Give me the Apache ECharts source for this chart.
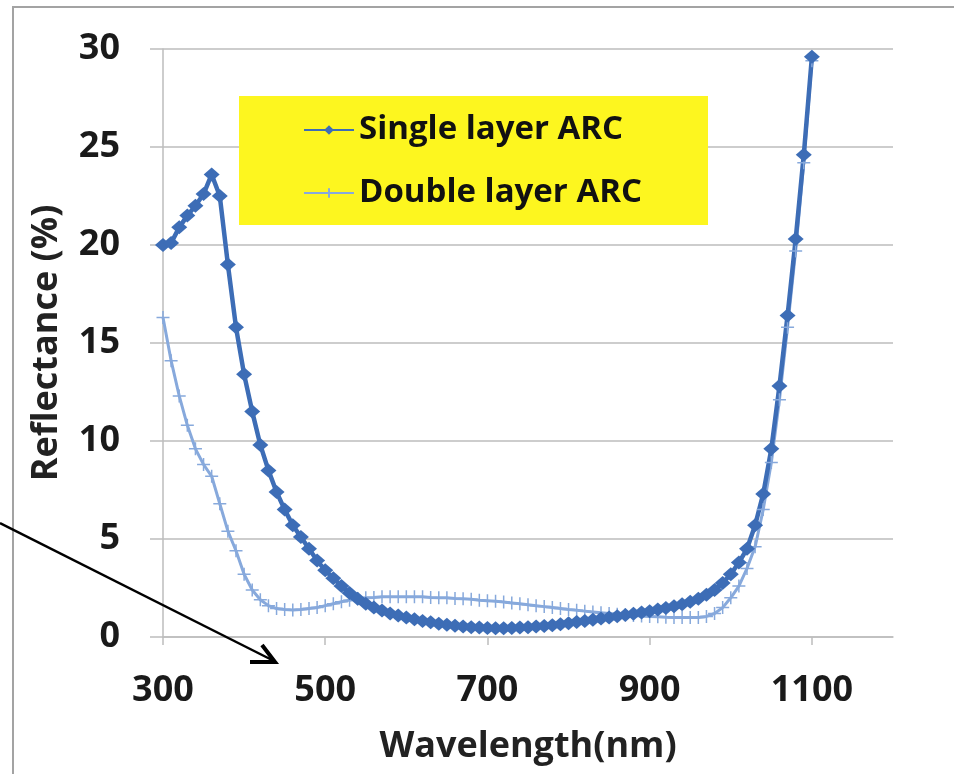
<!DOCTYPE html>
<html>
<head>
<meta charset="utf-8">
<script src="https://cdn.jsdelivr.net/npm/echarts@6/dist/echarts.min.js"></script>
<style>
	html, body { margin: 0; padding: 0; background: #fff; }
	#chart { width: 954px; height: 774px; }
</style>
</head>
<body>
<div id="chart"></div>
<script>
	// wavelength (nm)
	var wavelength = [
		300, 310, 320, 330, 340, 350, 360, 370, 380, 390,
		400, 410, 420, 430, 440, 450, 460, 470, 480, 490,
		500, 510, 520, 530, 540, 550, 560, 570, 580, 590,
		600, 610, 620, 630, 640, 650, 660, 670, 680, 690,
		700, 710, 720, 730, 740, 750, 760, 770, 780, 790,
		800, 810, 820, 830, 840, 850, 860, 870, 880, 890,
		900, 910, 920, 930, 940, 950, 960, 970, 980, 990,
		1000, 1010, 1020, 1030, 1040, 1050, 1060, 1070, 1080, 1090,
		1100
	];
	// reflectance (%)
	var singleLayer = [
		20.0, 20.1, 20.9, 21.5, 22.0, 22.6, 23.6, 22.5, 19.0, 15.8,
		13.4, 11.5, 9.8, 8.5, 7.4, 6.5, 5.7, 5.1, 4.5, 3.9,
		3.4, 3.0, 2.6, 2.25, 1.95, 1.7, 1.5, 1.35, 1.2, 1.1,
		1.0, 0.9, 0.82, 0.75, 0.68, 0.62, 0.57, 0.53, 0.5, 0.48,
		0.46, 0.45, 0.45, 0.46, 0.48, 0.5, 0.53, 0.56, 0.6, 0.65,
		0.7, 0.76, 0.82, 0.88, 0.94, 1.0, 1.06, 1.12, 1.18, 1.25,
		1.32, 1.4, 1.48, 1.57, 1.67, 1.8, 1.95, 2.15, 2.4, 2.75,
		3.2, 3.8, 4.5, 5.7, 7.3, 9.6, 12.8, 16.4, 20.3, 24.6,
		29.6
	];
	var doubleLayer = [
		16.3, 14.1, 12.3, 10.8, 9.6, 8.8, 8.2, 6.8, 5.4, 4.4,
		3.2, 2.4, 1.9, 1.6, 1.45, 1.4, 1.38, 1.4, 1.45, 1.5,
		1.6, 1.7, 1.8, 1.88, 1.95, 2.0, 2.02, 2.05, 2.05, 2.05,
		2.05, 2.05, 2.05, 2.02, 2.0, 2.0, 1.97, 1.95, 1.92, 1.88,
		1.85, 1.82, 1.78, 1.74, 1.7, 1.65, 1.6, 1.55, 1.5, 1.45,
		1.4, 1.36, 1.32, 1.28, 1.24, 1.2, 1.16, 1.13, 1.1, 1.07,
		1.05, 1.03, 1.01, 1.0, 1.0, 1.0, 1.0, 1.05, 1.2, 1.5,
		2.0, 2.6, 3.5, 4.6, 6.5, 8.9, 12.1, 15.8, 19.7, 24.2,
		29.4
	];
	var xTicks = [300, 500, 700, 900, 1100];
	var seriesNames = ['Single layer ARC', 'Double layer ARC'];

	function pairs(xs, ys) {
		var out = [];
		for (var i = 0; i < xs.length; i++) {
			out.push([xs[i], ys[i]]);
		}
		return out;
	}

	var font = "'Open Sans', 'DejaVu Sans', sans-serif";
	var gridColor = '#bdbdbd';
	var singleColor = '#3d6db6';
	var doubleColor = '#87a9dc';

	var chart = echarts.init(document.getElementById('chart'));
	var option = {
		backgroundColor: '#fff',
		animation: false,
		grid: { left: 163, top: 49, right: 61, bottom: 137 },
		legend: {
			orient: 'vertical',
			left: 298,
			top: 107,
			itemWidth: 50,
			itemHeight: 12,
			itemGap: 27,
			z: 5,
			textStyle: { fontFamily: font, fontWeight: 'bold', fontSize: 33, color: '#111', lineHeight: 36 },
			data: seriesNames
		},
		xAxis: {
			type: 'value',
			min: 300,
			max: 1200,
			name: 'Wavelength(nm)',
			nameLocation: 'middle',
			nameGap: 92,
			nameTextStyle: { fontFamily: font, fontWeight: 'bold', fontSize: 36, color: '#222' },
			axisLine: { show: true, lineStyle: { color: gridColor, width: 1.5 } },
			axisTick: { show: true, length: 8, customValues: xTicks, lineStyle: { color: gridColor, width: 1.5 } },
			axisLabel: {
				customValues: xTicks, margin: 36, fontFamily: font, fontWeight: 'bold', fontSize: 36, color: '#1a1a1a',
				formatter: function (v) { return String(v); }
			},
			splitLine: { show: false }
		},
		yAxis: {
			type: 'value',
			min: 0,
			max: 30,
			interval: 5,
			name: 'Reflectance (%)',
			nameLocation: 'middle',
			nameGap: 98,
			nameTextStyle: { fontFamily: font, fontWeight: 'bold', fontSize: 36, color: '#222' },
			axisLine: { show: true, lineStyle: { color: gridColor, width: 1.5 } },
			axisTick: { show: true, length: 13, lineStyle: { color: gridColor, width: 1.5 } },
			axisLabel: { margin: 43, fontFamily: font, fontWeight: 'bold', fontSize: 36, color: '#1a1a1a' },
			splitLine: { show: true, lineStyle: { color: gridColor, width: 1.5 } }
		},
		graphic: [
			// frame of the screenshot
			{ type: 'rect', z: 0, shape: { x: 13, y: 7, width: 1000, height: 1000 },
				style: { fill: 'none', stroke: '#a3a3a3', lineWidth: 2 } },
			// yellow legend box
			{ type: 'rect', z: 3, shape: { x: 239, y: 96, width: 469, height: 129 },
				style: { fill: '#fdf61f' } },
			// annotation arrow
			{ type: 'polyline', z: 10, shape: { points: [[0, 523], [274, 661]] },
				style: { fill: 'none', stroke: '#000', lineWidth: 2.5 } },
			{ type: 'polyline', z: 10, shape: { points: [[262, 645], [275, 662], [250, 662]] },
				style: { fill: 'none', stroke: '#000', lineWidth: 4, lineJoin: 'miter' } }
		],
		series: [
			{
				name: seriesNames[1],
				type: 'line',
				data: pairs(wavelength, doubleLayer),
				symbol: 'path://M0,6H12M6,0V12',
				symbolSize: 13,
				showAllSymbol: true,
				z: 2,
				lineStyle: { color: doubleColor, width: 3 },
				itemStyle: { color: doubleColor, borderColor: doubleColor, borderWidth: 1.5 }
			},
			{
				name: seriesNames[0],
				type: 'line',
				data: pairs(wavelength, singleLayer),
				symbol: 'diamond',
				symbolSize: [16, 14],
				showAllSymbol: true,
				z: 2,
				lineStyle: { color: singleColor, width: 4.5 },
				itemStyle: { color: singleColor }
			}
		]
	};
	chart.setOption(option);
</script>
</body>
</html>
